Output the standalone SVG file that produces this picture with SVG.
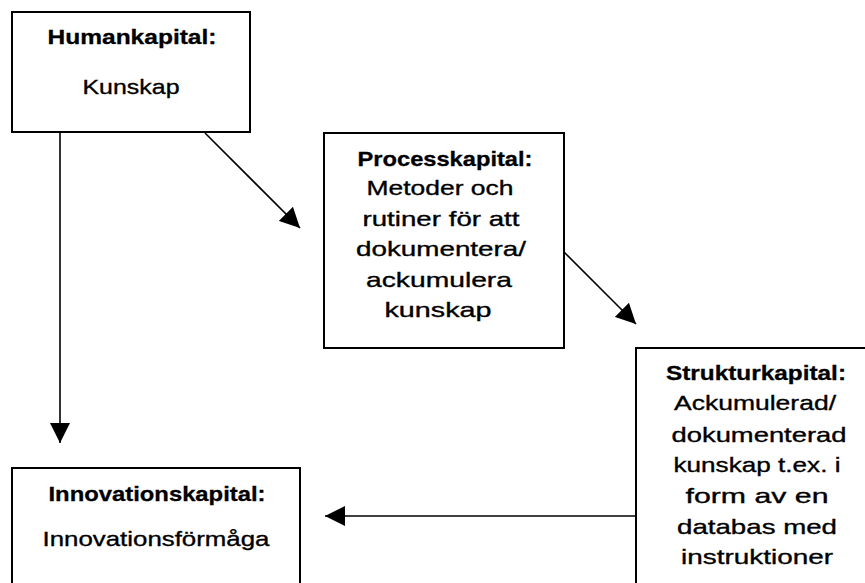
<svg xmlns="http://www.w3.org/2000/svg" width="865" height="583" viewBox="0 0 865 583">
<style>
rect.box{fill:#fff;stroke:#000;stroke-width:2}
text{font-family:"Liberation Sans",Arial,sans-serif;font-size:21px;fill:#000;text-anchor:middle;stroke:#000;stroke-width:0.35}
text.t{font-weight:bold;stroke-width:0.3}
.conn line{stroke:#000;stroke-width:1.6;fill:none}
</style>
<defs>
<marker id="ah" markerUnits="userSpaceOnUse" markerWidth="20" markerHeight="20" refX="20" refY="10" orient="auto" viewBox="0 0 20 20">
<path d="M0,0 L20,10 L0,20 z" fill="#000"/>
</marker>
</defs>
<g id="humankapital">
<rect class="box" x="12" y="12" width="238" height="120"/>
<text class="t" x="132" y="44" textLength="169" lengthAdjust="spacingAndGlyphs">Humankapital:</text>
<text x="131" y="94" textLength="97" lengthAdjust="spacingAndGlyphs">Kunskap</text>
</g>
<g id="processkapital">
<rect class="box" x="324" y="133" width="240" height="215"/>
<text class="t" x="445" y="166" textLength="175" lengthAdjust="spacingAndGlyphs">Processkapital:</text>
<text x="440" y="195" textLength="147" lengthAdjust="spacingAndGlyphs">Metoder och</text>
<text x="441" y="226" textLength="157" lengthAdjust="spacingAndGlyphs">rutiner för att</text>
<text x="441" y="256" textLength="170" lengthAdjust="spacingAndGlyphs">dokumentera/</text>
<text x="439" y="287" textLength="146" lengthAdjust="spacingAndGlyphs">ackumulera</text>
<text x="438" y="317" textLength="107" lengthAdjust="spacingAndGlyphs">kunskap</text>
</g>
<g id="strukturkapital">
<rect class="box" x="636" y="348" width="250" height="250"/>
<text class="t" x="756" y="380" textLength="180" lengthAdjust="spacingAndGlyphs">Strukturkapital:</text>
<text x="755" y="410" textLength="162" lengthAdjust="spacingAndGlyphs">Ackumulerad/</text>
<text x="759" y="442" textLength="175" lengthAdjust="spacingAndGlyphs">dokumenterad</text>
<text x="757" y="472" textLength="167" lengthAdjust="spacingAndGlyphs">kunskap t.ex. i</text>
<text x="757" y="503" textLength="143" lengthAdjust="spacingAndGlyphs">form av en</text>
<text x="757" y="534" textLength="160" lengthAdjust="spacingAndGlyphs">databas med</text>
<text x="757" y="564" textLength="152" lengthAdjust="spacingAndGlyphs">instruktioner</text>
</g>
<g id="innovationskapital">
<rect class="box" x="12" y="468" width="288" height="130"/>
<text class="t" x="157" y="501" textLength="217" lengthAdjust="spacingAndGlyphs">Innovationskapital:</text>
<text x="156" y="546" textLength="227" lengthAdjust="spacingAndGlyphs">Innovationsförmåga</text>
</g>
<g id="connectors" class="conn">
<line x1="205" y1="133" x2="300" y2="228" marker-end="url(#ah)"/>
<line x1="564" y1="252" x2="636" y2="324" marker-end="url(#ah)"/>
<line x1="60" y1="133" x2="60" y2="443" marker-end="url(#ah)"/>
<line x1="636" y1="516" x2="325" y2="516" marker-end="url(#ah)"/>
</g>
</svg>
